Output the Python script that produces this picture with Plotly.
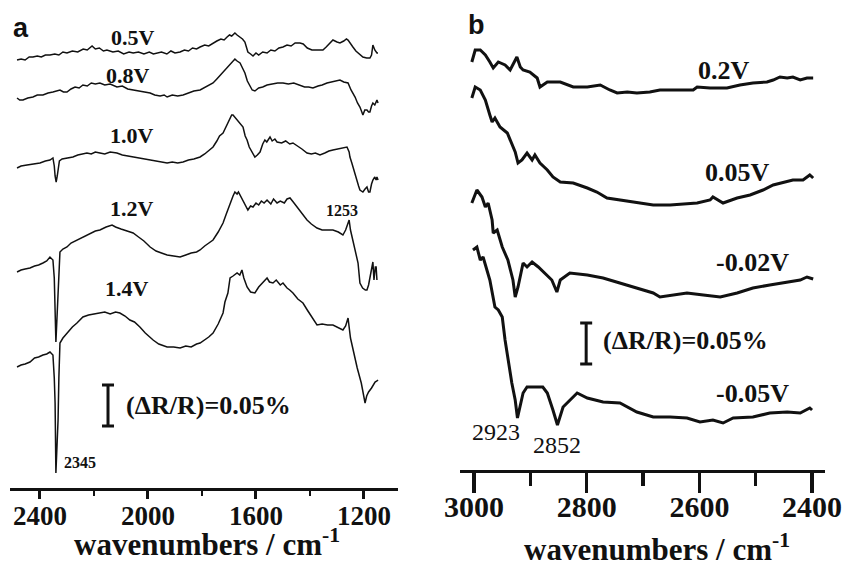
import plotly.graph_objects as go

# ---------------- DATA ----------------
# Panel a: wavenumbers (cm-1) and stacked reflectance changes (a.u.)
A_LABELS = ["0.5V", "0.8V", "1.0V", "1.2V", "1.4V"]

a05_wn = [2485, 2470, 2455, 2440, 2426, 2410, 2395, 2380, 2363, 2345, 2330, 2315, 2300, 2280, 2260, 2240, 2225, 2207,
          2195, 2180, 2165, 2152, 2130, 2110, 2090, 2070, 2055, 2035, 2015, 1995, 1980, 1967, 1950, 1930, 1915, 1900,
          1881, 1865, 1850, 1835, 1820, 1807, 1790, 1775, 1759, 1745, 1730, 1718, 1707, 1698, 1690, 1678, 1670, 1659,
          1650, 1641, 1636, 1630, 1620, 1611, 1600, 1590, 1575, 1559, 1545, 1530, 1515, 1500, 1485, 1470, 1455, 1437,
          1425, 1410, 1393, 1375, 1352, 1340, 1325, 1315, 1300, 1289, 1275, 1265, 1259, 1250, 1241, 1230, 1222, 1212,
          1204, 1190, 1178, 1172, 1167, 1160, 1152, 1148]
a05_int = [428, 429, 428, 431, 431, 432, 431, 433, 433, 434, 433, 436, 435, 437, 436, 439, 438, 442,
           439, 440, 437, 438, 436, 437, 434, 436, 435, 436, 434, 436, 434, 435, 436, 434, 437, 435,
           436, 438, 437, 440, 439, 441, 443, 442, 445, 447, 449, 448, 451, 453, 452, 455, 453, 451,
           449, 446, 440, 436, 434, 432, 435, 433, 436, 435, 438, 437, 440, 441, 443, 442, 445, 445,
           444, 440, 438, 438, 438, 441, 445, 448, 446, 445, 447, 449, 448, 444, 441, 437, 435, 433,
           431, 430, 430, 433, 443, 438, 435, 435]

a08_wn = [2485, 2475, 2463, 2445, 2426, 2410, 2389, 2370, 2352, 2340, 2326, 2313, 2300, 2285, 2270, 2255, 2241, 2225,
          2210, 2195, 2178, 2160, 2140, 2115, 2095, 2075, 2055, 2035, 2015, 1992, 1975, 1955, 1940, 1929, 1910, 1890,
          1870, 1850, 1830, 1807, 1785, 1770, 1759, 1745, 1735, 1722, 1710, 1696, 1688, 1678, 1670, 1659, 1650, 1641,
          1632, 1622, 1614, 1604, 1590, 1575, 1559, 1540, 1520, 1500, 1480, 1460, 1437, 1420, 1405, 1389, 1370, 1355,
          1337, 1320, 1300, 1289, 1275, 1259, 1248, 1233, 1224, 1215, 1208, 1204, 1197, 1189, 1183, 1178, 1172, 1167,
          1160, 1152, 1148]
a08_int = [390, 388, 388, 390, 391, 393, 393, 395, 396, 397, 398, 396, 396, 399, 401, 400, 403, 402,
           405, 404, 405, 403, 404, 401, 402, 399, 398, 397, 396, 395, 393, 392, 393, 391, 393, 392,
           393, 395, 397, 398, 401, 403, 405, 409, 412, 415, 419, 423, 426, 429, 427, 425, 420, 415,
           407, 401, 398, 397, 400, 401, 403, 404, 405, 405, 404, 405, 403, 401, 401, 400, 402, 403,
           405, 406, 407, 408, 406, 405, 398, 391, 385, 381, 376, 373, 378, 378, 376, 376, 382, 385,
           383, 388, 385]

a10_wn = [2485, 2470, 2448, 2425, 2400, 2380, 2363, 2352, 2347, 2344, 2340, 2336, 2333, 2328, 2318, 2300, 2278, 2260,
          2240, 2226, 2210, 2195, 2178, 2160, 2140, 2115, 2095, 2075, 2055, 2035, 2010, 1992, 1970, 1950, 1929, 1910,
          1890, 1870, 1850, 1830, 1807, 1790, 1775, 1759, 1745, 1735, 1722, 1710, 1696, 1690, 1685, 1676, 1667, 1660,
          1648, 1640, 1633, 1625, 1615, 1604, 1595, 1585, 1575, 1567, 1560, 1548, 1540, 1530, 1522, 1505, 1490, 1475,
          1463, 1445, 1430, 1411, 1395, 1380, 1363, 1345, 1330, 1315, 1300, 1285, 1270, 1263, 1255, 1252, 1245, 1241,
          1234, 1226, 1220, 1215, 1208, 1204, 1196, 1189, 1183, 1178, 1172, 1167, 1160, 1155, 1152, 1148]
a10_int = [320, 322, 323, 324, 325, 327, 328, 330, 322, 312, 306, 312, 318, 327, 329, 330, 331, 333,
           334, 335, 334, 336, 335, 334, 336, 335, 333, 332, 331, 330, 329, 328, 327, 326, 325, 326,
           325, 326, 328, 329, 331, 334, 337, 341, 347, 352, 355, 362, 370, 373, 373, 370, 368, 365,
           361, 352, 348, 341, 336, 331, 333, 336, 344, 348, 346, 351, 347, 349, 346, 345, 347, 344,
           345, 342, 339, 335, 334, 335, 333, 335, 337, 338, 339, 340, 341, 341, 336, 331, 325, 321,
           314, 308, 302, 298, 297, 296, 299, 301, 296, 296, 304, 308, 311, 308, 311, 308]

a12_wn = [2485, 2470, 2455, 2437, 2420, 2405, 2389, 2375, 2363, 2352, 2347, 2344, 2341, 2337, 2333, 2330, 2326, 2315,
          2300, 2285, 2263, 2245, 2230, 2215, 2195, 2178, 2155, 2133, 2120, 2100, 2080, 2055, 2035, 2015, 1992, 1970,
          1950, 1929, 1905, 1881, 1860, 1840, 1820, 1807, 1790, 1775, 1759, 1740, 1722, 1710, 1696, 1685, 1678, 1670,
          1665, 1659, 1650, 1640, 1630, 1620, 1611, 1600, 1590, 1580, 1570, 1559, 1545, 1535, 1522, 1510, 1495, 1485,
          1474, 1462, 1448, 1430, 1411, 1395, 1374, 1355, 1335, 1315, 1295, 1278, 1268, 1260, 1255, 1250, 1244, 1235,
          1222, 1215, 1205, 1195, 1189, 1183, 1178, 1172, 1167, 1163, 1158, 1155, 1152]
a12_int = [216, 218, 219, 220, 222, 223, 225, 227, 231, 228, 210, 180, 146, 170, 200, 226, 236, 239,
           241, 245, 248, 251, 253, 255, 257, 258, 261, 263, 261, 259, 257, 255, 251, 247, 241, 237,
           235, 233, 232, 231, 233, 235, 236, 238, 242, 245, 248, 256, 265, 274, 285, 292, 296, 294,
           296, 293, 287, 282, 278, 282, 281, 285, 283, 287, 285, 288, 284, 289, 285, 287, 285, 289,
           290, 286, 281, 274, 268, 264, 260, 258, 258, 258, 256, 253, 258, 264, 268, 258, 251, 240,
           225, 205, 200, 198, 198, 203, 211, 218, 226, 208, 221, 221, 208]

a14_wn = [2485, 2470, 2455, 2437, 2420, 2405, 2389, 2375, 2363, 2352, 2347, 2344, 2341, 2337, 2333, 2330, 2326, 2315,
          2300, 2280, 2263, 2241, 2220, 2200, 2178, 2160, 2140, 2120, 2104, 2085, 2067, 2050, 2030, 2010, 1981, 1960,
          1929, 1905, 1881, 1860, 1840, 1820, 1807, 1790, 1775, 1759, 1740, 1722, 1715, 1704, 1698, 1696, 1685, 1670,
          1660, 1652, 1645, 1633, 1620, 1604, 1590, 1575, 1559, 1550, 1537, 1525, 1510, 1500, 1485, 1475, 1463, 1445,
          1426, 1410, 1390, 1374, 1355, 1335, 1315, 1295, 1278, 1268, 1259, 1250, 1241, 1225, 1210, 1196, 1190, 1183,
          1172, 1165, 1159, 1152, 1148]
a14_int = [121, 123, 124, 126, 130, 131, 133, 134, 136, 133, 110, 85, 15, 40, 68, 110, 145, 150,
           155, 161, 165, 171, 173, 174, 175, 176, 174, 176, 175, 172, 168, 166, 161, 155, 148, 144,
           141, 141, 140, 142, 141, 144, 145, 148, 151, 155, 164, 175, 186, 195, 204, 210, 212, 215,
           213, 218, 210, 201, 196, 195, 201, 205, 210, 206, 205, 208, 203, 205, 200, 198, 195, 189,
           185, 178, 170, 163, 164, 163, 163, 160, 158, 162, 170, 150, 138, 120, 105, 85, 92, 96,
           100, 103, 106, 107, 108]

# Panel b
B_LABELS = ["0.2V", "0.05V", "-0.02V", "-0.05V"]

b02_wn = [3004, 2998, 2989, 2980, 2972, 2966, 2957, 2945, 2936, 2927, 2924, 2918, 2913, 2901, 2888, 2883, 2870, 2847,
          2824, 2799, 2776, 2759, 2746, 2728, 2711, 2688, 2670, 2657, 2622, 2611, 2604, 2581, 2551, 2528, 2505, 2480,
          2469, 2457, 2444, 2434, 2421, 2409, 2398]
b02_int = [408, 420, 420, 415, 408, 402, 408, 405, 400, 410, 413, 403, 400, 398, 392, 383, 388, 388,
           383, 383, 385, 380, 377, 378, 377, 378, 380, 380, 380, 380, 383, 382, 382, 385, 387, 388,
           390, 393, 392, 393, 390, 392, 392]

b005_wn = [3004, 2998, 2989, 2980, 2972, 2968, 2963, 2954, 2941, 2936, 2927, 2922, 2915, 2906, 2897, 2892, 2883, 2870,
           2860, 2847, 2824, 2799, 2782, 2764, 2741, 2711, 2682, 2652, 2622, 2604, 2581, 2576, 2558, 2533, 2510, 2487,
           2469, 2448, 2434, 2416, 2404, 2398]
b005_int = [372, 383, 380, 370, 355, 348, 352, 343, 337, 330, 318, 307, 310, 317, 310, 315, 307, 300,
            293, 288, 287, 282, 278, 272, 270, 267, 265, 265, 266, 267, 270, 273, 267, 272, 275, 280,
            285, 288, 290, 290, 295, 292]

bm002_wn = [3004, 2995, 2986, 2980, 2975, 2968, 2966, 2959, 2950, 2940, 2931, 2927, 2922, 2918, 2913, 2906, 2897, 2886,
            2874, 2862, 2853, 2847, 2830, 2799, 2771, 2741, 2711, 2682, 2670, 2647, 2622, 2593, 2563, 2533, 2505, 2475,
            2444, 2421, 2409, 2398]
bm002_int = [267, 280, 273, 263, 267, 250, 237, 240, 223, 210, 190, 173, 183, 195, 207, 203, 208, 203,
             197, 190, 178, 190, 197, 195, 192, 187, 182, 177, 173, 175, 177, 175, 173, 177, 182, 185,
             188, 190, 193, 191]

bm005_wn = [3002, 2995, 2989, 2984, 2972, 2963, 2957, 2950, 2945, 2940, 2933, 2927, 2923, 2913, 2906, 2878, 2870, 2860,
            2852, 2842, 2817, 2799, 2771, 2741, 2711, 2682, 2652, 2622, 2599, 2576, 2558, 2540, 2505, 2475, 2444, 2421,
            2404, 2400]
bm005_int = [220, 223, 210, 213, 190, 163, 160, 153, 130, 110, 87, 70, 52, 77, 83, 83, 77, 60,
             45, 63, 77, 72, 68, 67, 58, 53, 53, 52, 48, 50, 47, 52, 53, 57, 58, 57,
             62, 60]

# scale bar: 0.05 % of dR/R expressed in the stacked a.u. scale
SCALE_PCT = 0.05
AU_PER_PCT = 820

# ---------------- FIGURE ----------------
SERIF = "Liberation Serif"
BLACK = "#111111"

W, H = 846, 564


def px(xp):
    return xp / W


def py(yp):
    return 1 - yp / H


fig = go.Figure()

for wn, inten in [(a05_wn, a05_int), (a08_wn, a08_int), (a10_wn, a10_int), (a12_wn, a12_int), (a14_wn, a14_int)]:
    fig.add_trace(go.Scatter(x=wn, y=inten, mode="lines", line=dict(color=BLACK, width=1.5),
                             xaxis="x", yaxis="y", showlegend=False, hoverinfo="skip"))

for wn, inten in [(b02_wn, b02_int), (b005_wn, b005_int), (bm002_wn, bm002_int), (bm005_wn, bm005_int)]:
    fig.add_trace(go.Scatter(x=wn, y=inten, mode="lines", line=dict(color=BLACK, width=3),
                             xaxis="x2", yaxis="y2", showlegend=False, hoverinfo="skip"))

half = SCALE_PCT * AU_PER_PCT / 2
fig.add_trace(go.Scatter(x=[2148], y=[82.5], mode="markers", marker=dict(size=1, color="rgba(0,0,0,0)"),
                         error_y=dict(type="data", array=[half], symmetric=True, width=6, thickness=3, color=BLACK),
                         xaxis="x", yaxis="y", showlegend=False, hoverinfo="skip"))
fig.add_trace(go.Scatter(x=[2801], y=[126.5], mode="markers", marker=dict(size=1, color="rgba(0,0,0,0)"),
                         error_y=dict(type="data", array=[half], symmetric=True, width=6, thickness=3, color=BLACK),
                         xaxis="x2", yaxis="y2", showlegend=False, hoverinfo="skip"))

AX_A, AX_B = 488, 470   # axis line rows in the window

fig.update_layout(
    width=W, height=H,
    margin=dict(l=0, r=0, t=0, b=0, autoexpand=False),
    paper_bgcolor="white", plot_bgcolor="white",
    xaxis=dict(domain=[px(10), px(398)], range=[2511, 1074], anchor="y", showgrid=False, zeroline=False,
               showline=True, linecolor=BLACK, linewidth=2.5,
               tickvals=[2400, 2000, 1600, 1200], ticktext=["2400", "2000", "1600", "1200"],
               ticks="outside", ticklen=8, tickwidth=3, tickcolor=BLACK,
               minor=dict(tickvals=[2200, 1800, 1400], ticks="outside", ticklen=5, tickwidth=2.5, tickcolor=BLACK),
               tickfont=dict(family=SERIF, size=27, color=BLACK, weight="bold"),
               ticklabelstandoff=-6, ticklabeloverflow="allow"),
    xaxis3=dict(overlaying="x", range=[2511, 1074], anchor="y", showgrid=False, zeroline=False,
                showline=False, showticklabels=False,
                tickvals=[2400, 2000, 1600, 1200],
                ticks="inside", ticklen=8, tickwidth=3, tickcolor=BLACK,
                minor=dict(tickvals=[2200, 1800, 1400], ticks="inside", ticklen=5, tickwidth=2.5, tickcolor=BLACK)),
    yaxis=dict(domain=[py(AX_A), 1], range=[0, AX_A], visible=False),
    xaxis2=dict(domain=[px(460), px(825)], range=[3025, 2377], anchor="y2", showgrid=False, zeroline=False,
                showline=True, linecolor=BLACK, linewidth=3,
                tickvals=[3000, 2800, 2600, 2400], ticktext=["3000", "2800", "2600", "2400"],
                ticks="outside", ticklen=20, tickwidth=3.5, tickcolor=BLACK,
                minor=dict(tickvals=[2900, 2700, 2500], ticks="outside", ticklen=13, tickwidth=3.5, tickcolor=BLACK),
                tickfont=dict(family=SERIF, size=30, color=BLACK, weight="bold"),
                ticklabelstandoff=-12, ticklabeloverflow="allow"),
    yaxis2=dict(domain=[py(AX_B), 1], range=[0, AX_B], visible=False),
)

ann = []


def txt(x, y, s, size, xref="x", yref="y", bold=True, family=SERIF, xanchor="center"):
    ann.append(dict(x=x, y=y, xref=xref, yref=yref, text=("<b>%s</b>" % s) if bold else s, showarrow=False,
                    font=dict(family=family, size=size, color=BLACK), xanchor=xanchor, yanchor="middle"))


# panel a voltage labels
for lab, (wx, hy) in zip(A_LABELS, [(2055, 451), (2074, 413), (2059, 353), (2059, 280), (2078, 200)]):
    txt(wx, hy, lab, 22)
txt(1281, 278, "1253", 16)
txt(2252, 26, "2345", 16)
txt(2088, 83, "(ΔR/R)=0.05%", 26, xanchor="left")

# panel b labels
for lab, (wx, hy) in zip(B_LABELS, [(2556, 400), (2533, 298), (2505, 208), (2505, 77)]):
    txt(wx, hy, lab, 26, xref="x2", yref="y2")
txt(2775, 130, "(ΔR/R)=0.05%", 26, xref="x2", yref="y2", xanchor="left")
txt(2961, 38, "2923", 24, xref="x2", yref="y2", bold=False)
txt(2853, 25, "2852", 24, xref="x2", yref="y2", bold=False)

# axis titles and panel letters
txt(px(207), py(542), "wavenumbers / cm<sup>-1</sup>", 31, xref="paper", yref="paper")
txt(px(657), py(547), "wavenumbers / cm<sup>-1</sup>", 31, xref="paper", yref="paper")
txt(px(21), py(28), "a", 27, xref="paper", yref="paper", family="Liberation Sans")
txt(px(476), py(25), "b", 27, xref="paper", yref="paper", family="Liberation Sans")

fig.update_layout(annotations=ann)
# remove the default 8px page margin so the figure fills the window exactly
fig.write_html("out.html", config={"displayModeBar": False, "staticPlot": True},
               post_script="document.body.style.margin='0px';document.body.style.overflow='hidden';")
